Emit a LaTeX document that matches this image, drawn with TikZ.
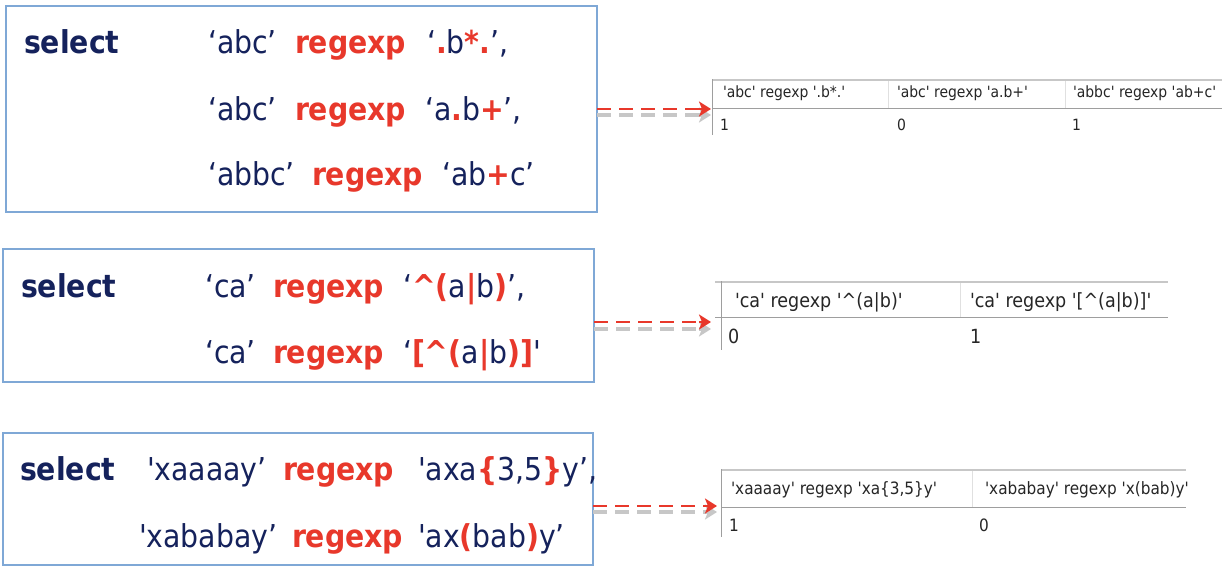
\documentclass[tikz,border=0pt]{standalone}
\usepackage{fontspec}
\newfontfamily\cf{DejaVu Sans Condensed}
\usetikzlibrary{arrows.meta}
\definecolor{navy}{HTML}{15225C}
\definecolor{rred}{HTML}{E8382B}
\definecolor{boxblue}{HTML}{7FA8D6}
\newcommand\rd[1]{\textcolor{rred}{\bfseries #1}}
\newcommand\sq{\textquotesingle}
\begin{document}
\begin{tikzpicture}[x=1pt,y=-1pt,
  codebox/.style={draw=boxblue, line width=1.2pt, inner sep=0, outer sep=0},
  code/.style={anchor=base west, inner sep=0, outer sep=0, text=navy, font=\cf\fontsize{31.5}{31.5}\selectfont},
  sel/.style={code, font=\cf\bfseries\fontsize{31.5}{31.5}\selectfont},
  rx/.style={sel, text=rred},
  arr/.style={rred, line width=2.8pt, dash pattern=on 14pt off 8pt, shorten >=9pt},
  arrtip/.style={rred, line width=2.8pt, solid, -{Stealth[length=12pt,width=15pt,inset=3pt]}},
  shad/.style={black!22, line width=4pt, dash pattern=on 14pt off 8pt, shorten >=9pt},
  shadtip/.style={black!22, line width=4pt, solid, -{Stealth[length=12pt,width=15pt,inset=3pt]}},
  tcell/.style={anchor=base west, inner sep=0, outer sep=0, text=black!85},
  ttop/.style={draw=black!22, line width=2.5pt},
  tline/.style={draw=black!38, line width=1pt},
  tsep/.style={draw=black!12, line width=1pt}
]
\useasboundingbox[fill=white] (0,0) rectangle (1222,578);

% ---------- boxes ----------
\node[codebox, minimum width=591pt, minimum height=206pt] (box1) at (301.5,109) {};
\node[codebox, minimum width=591pt, minimum height=133pt] (box2) at (298.5,315.5) {};
\node[codebox, minimum width=590pt, minimum height=132pt] (box3) at (298,499) {};

% ---------- box 1 ----------
\node[sel] (s1) at (24,54) {select};
\node[code] (b1l1a) at (208,54) {‘abc’};
\node[rx]   (b1l1b) at (295,54) {regexp};
\node[code] (b1l1c) at (427,54) {‘\rd{.}b\rd{*.}’,};
\node[code] (b1l2a) at (208,120) {‘abc’};
\node[rx]   (b1l2b) at (295,120) {regexp};
\node[code] (b1l2c) at (425,120) {‘a\rd{.}b\rd{+}’,};
\node[code] (b1l3a) at (208,185) {‘abbc’};
\node[rx]   (b1l3b) at (312,185) {regexp};
\node[code] (b1l3c) at (442,185) {‘ab\rd{+}c’};

% ---------- box 2 ----------
\node[sel] (s2) at (21,297) {select};
\node[code] (b2l1a) at (205,297) {‘ca’};
\node[rx]   (b2l1b) at (273,297) {regexp};
\node[code] (b2l1c) at (403,297) {‘\rd{\textasciicircum(}a\rd{|}b\rd{)}’,};
\node[code] (b2l2a) at (205,363) {‘ca’};
\node[rx]   (b2l2b) at (273,363) {regexp};
\node[code] (b2l2c) at (403,363) {‘\rd{[\textasciicircum(}a\rd{|}b\rd{)]}\sq};

% ---------- box 3 ----------
\node[sel] (s3) at (20,480) {select};
\node[code] (b3l1a) at (147,480) {\sq xaaaay’};
\node[rx]   (b3l1b) at (283,480) {regexp};
\node[code] (b3l1c) at (418,480) {\sq axa\rd{\{}3,5\rd{\}}y’,};
\node[code] (b3l2a) at (139,547) {\sq xababay’};
\node[rx]   (b3l2b) at (292,547) {regexp};
\node[code] (b3l2c) at (418,547) {\sq ax\rd{(}bab\rd{)}y’};

% ---------- table 1 ----------
\draw[ttop] (712,80) -- (1222,80);
\draw[tsep] (888,81) -- (888,108);
\draw[tsep] (1065,81) -- (1065,108);
\draw[tline] (712,108) -- (1222,108);
\draw[tline] (712,79) -- (712,135);
\begin{scope}[every node/.style={tcell, font=\cf\fontsize{15.5}{15.5}\selectfont}]
\node (t1h1) at (723,97) {\sq abc\sq{} regexp \sq.b*.\sq};
\node (t1h2) at (897,97) {\sq abc\sq{} regexp \sq a.b+\sq};
\node (t1h3) at (1073,97) {\sq abbc\sq{} regexp \sq ab+c\sq};
\node (t1d1) at (720,130) {1};
\node (t1d2) at (897,130) {0};
\node (t1d3) at (1072,130) {1};
\end{scope}

% ---------- table 2 ----------
\draw[ttop] (715,282) -- (1168,282);
\draw[tsep] (960,283) -- (960,317);
\draw[tline] (715,317) -- (1168,317);
\draw[tline] (721,281) -- (721,350);
\begin{scope}[every node/.style={tcell, font=\cf\fontsize{19.5}{19.5}\selectfont}]
\node (t2h1) at (735,307) {\sq ca\sq{} regexp \sq\textasciicircum(a|b)\sq};
\node (t2h2) at (970,307) {\sq ca\sq{} regexp \sq[\textasciicircum(a|b)]\sq};
\node (t2d1) at (728,343) {0};
\node (t2d2) at (970,343) {1};
\end{scope}

% ---------- table 3 ----------
\draw[ttop] (721,470) -- (1186,470);
\draw[tsep] (972,471) -- (972,507);
\draw[tline] (721,507) -- (1186,507);
\draw[tline] (721,469) -- (721,537);
\begin{scope}[every node/.style={tcell, font=\cf\fontsize{17}{17}\selectfont}]
\node (t3h1) at (731,494) {\sq xaaaay\sq{} regexp \sq xa\{3,5\}y\sq};
\node (t3h2) at (985,494) {\sq xababay\sq{} regexp \sq x(bab)y\sq};
\node (t3d1) at (729,531) {1};
\node (t3d2) at (979,531) {0};
\end{scope}

% ---------- arrows ----------
\coordinate (a1) at (711,109);
\coordinate (a2) at (711,322);
\coordinate (a3) at (717,506);
\foreach \b/\a/\s in {box1/a1/6, box2/a2/7, box3/a3/6}{
  \draw[shad] ([yshift=-\s pt]\b.east |- \a) -- ([yshift=-\s pt]\a);
  \draw[shadtip] ([xshift=-12pt,yshift=-\s pt]\a) -- ([yshift=-\s pt]\a);
  \draw[arr] (\b.east |- \a) -- (\a);
  \draw[arrtip] ([xshift=-12pt]\a) -- (\a);
}
\end{tikzpicture}
\end{document}
